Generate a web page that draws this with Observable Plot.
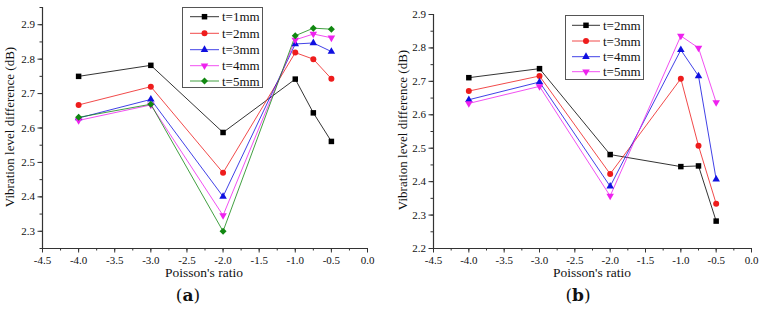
<!DOCTYPE html>
<html><head><meta charset="utf-8">
<script src="https://cdn.jsdelivr.net/npm/d3@7"></script>
<script src="https://cdn.jsdelivr.net/npm/@observablehq/plot@0.6"></script>
<style>
body{margin:0;background:#fff;}
#fig{position:relative;width:762px;height:310px;font-family:"Liberation Serif","Times New Roman",serif;color:#000;}
.panel{position:absolute;top:0;}
.lab{position:absolute;white-space:nowrap;font-family:"Liberation Serif","Times New Roman",serif;color:#111;}
.ytitle{font-size:13px;transform:translate(-50%,-50%) rotate(-90deg);}
.xtitle{font-size:13.5px;transform:translate(-50%,-50%);}
.cap{font-size:17px;font-family:"DejaVu Serif",serif;transform:translate(-50%,-50%);}
</style>
</head><body>
<div id="fig"></div>
<script>
// ---- data ----
const poisson = [-4, -3, -2, -1, -0.75, -0.5];
// panel (a)
const a_t1 = [2.750, 2.782, 2.587, 2.742, 2.644, 2.561];
const a_t2 = [2.667, 2.720, 2.470, 2.819, 2.800, 2.743];
const a_t3 = [2.629, 2.683, 2.401, 2.844, 2.847, 2.822];
const a_t4 = [2.622, 2.667, 2.346, 2.856, 2.873, 2.862];
const a_t5 = [2.631, 2.669, 2.300, 2.868, 2.890, 2.887];
const a_names = ["t=1mm", "t=2mm", "t=3mm", "t=4mm", "t=5mm"];
// panel (b)
const b_t2 = [2.711, 2.738, 2.481, 2.445, 2.447, 2.282];
const b_t3 = [2.671, 2.716, 2.423, 2.708, 2.507, 2.334];
const b_t4 = [2.645, 2.698, 2.386, 2.794, 2.716, 2.407];
const b_t5 = [2.634, 2.685, 2.357, 2.836, 2.800, 2.637];
const b_names = ["t=2mm", "t=3mm", "t=4mm", "t=5mm"];
// tick labels
const xTicks = [-4.5, -4.0, -3.5, -3.0, -2.5, -2.0, -1.5, -1.0, -0.5, 0.0];
const yTicksA = [2.3, 2.4, 2.5, 2.6, 2.7, 2.8, 2.9];
const yTicksB = [2.2, 2.3, 2.4, 2.5, 2.6, 2.7, 2.8, 2.9];

// styles per thickness
const styles = {
  "t=1mm": {color: "#000000", symbol: "square", rotate: 0, r: 3.1},
  "t=2mm": {color: "#ee1c1c", symbol: "circle", rotate: 0, r: 3.0},
  "t=3mm": {color: "#1010e0", symbol: "triangle", rotate: 0, r: 2.8},
  "t=4mm": {color: "#ee22ee", symbol: "triangle", rotate: 180, r: 2.8},
  "t=5mm": {color: "#118811", symbol: "diamond2", rotate: 0, r: 3.15}
};
const bStyles = {
  "t=2mm": styles["t=1mm"],
  "t=3mm": styles["t=2mm"],
  "t=4mm": styles["t=3mm"],
  "t=5mm": styles["t=4mm"]
};

const fmt = d => d.toFixed(1);
const fig = document.getElementById("fig");

function panel(seriesList, names, sty, yDomain, yTicks, geom) {
  const marks = [];
  seriesList.forEach((vals, i) => {
    const data = poisson.map((x, j) => ({x, y: vals[j]}));
    const s = sty[names[i]];
    marks.push(Plot.line(data, {x: "x", y: "y", stroke: s.color, strokeWidth: 0.8}));
  });
  seriesList.forEach((vals, i) => {
    const data = poisson.map((x, j) => ({x, y: vals[j]}));
    const s = sty[names[i]];
    marks.push(Plot.dot(data, {x: "x", y: "y", fill: s.color, stroke: "none", symbol: () => s.symbol, r: s.r, rotate: s.rotate}));
  });
  const minorX = d3.range(-4.5, 0.001, 0.25);
  const minorY = d3.range(yDomain[0], yDomain[1] + 0.0001, 0.05).map(v => +v.toFixed(3));
  marks.push(
    Plot.axisX({ticks: minorX, tickSize: 2.5, tickFormat: () => "", stroke: "#333"}),
    Plot.axisX({ticks: xTicks, tickSize: 4.5, tickPadding: 3, tickFormat: fmt, fontSize: 11, stroke: "#333", label: null}),
    Plot.axisY({ticks: minorY, tickSize: 2.5, tickFormat: () => "", stroke: "#333"}),
    Plot.axisY({ticks: yTicks, tickSize: 4.5, tickPadding: 3, tickFormat: fmt, fontSize: 11, stroke: "#333", label: null}),
    Plot.ruleY([yDomain[0]], {stroke: "#333", strokeWidth: 1.2}),
    Plot.ruleX([-4.5], {stroke: "#333", strokeWidth: 1.2})
  );
  const p = Plot.plot({
    width: geom.width, height: 310,
    marginLeft: geom.ml, marginRight: geom.mr, marginTop: geom.mt, marginBottom: geom.mb,
    style: {fontFamily: "Liberation Serif, Times New Roman, serif", fontSize: "11px", color: "#111", background: "transparent"},
    x: {domain: [-4.5, 0], label: null},
    y: {domain: yDomain, label: null},
    marks
  });
  p.classList.add("panel");
  p.style.left = geom.left + "px";
  fig.appendChild(p);
}

panel([a_t1, a_t2, a_t3, a_t4, a_t5], a_names, styles, [2.25, 2.95], yTicksA,
  {left: 0, width: 381, ml: 42, mr: 14, mt: 7, mb: 62});
panel([b_t2, b_t3, b_t4, b_t5], b_names, bStyles, [2.2, 2.9], yTicksB,
  {left: 381, width: 381, ml: 52, mr: 11, mt: 14, mb: 62});

function label(text, x, y, cls) {
  const d = document.createElement("div");
  d.className = "lab " + cls;
  d.style.left = x + "px"; d.style.top = y + "px";
  d.innerHTML = text;
  fig.appendChild(d);
}
label("Vibration level difference (dB)", 10, 127, "ytitle");
label("Vibration level difference (dB)", 403, 130, "ytitle");
label("Poisson's ratio", 204, 273, "xtitle");
label("Poisson's ratio", 592, 273, "xtitle");
label("(<b>a</b>)", 188, 295, "cap");
label("(<b>b</b>)", 578, 295, "cap");

function legend(names, sty, box, rowY, lineX0, lineX1, textX) {
  const svg = d3.select(fig).append("svg")
    .attr("width", 762).attr("height", 310)
    .style("position", "absolute").style("left", 0).style("top", 0)
    .style("pointer-events", "none");
  svg.append("rect").attr("x", box[0]).attr("y", box[1]).attr("width", box[2]).attr("height", box[3])
    .attr("fill", "#fff").attr("stroke", "#555").attr("stroke-width", 1);
  names.forEach((n, i) => {
    const s = sty[n];
    const y = rowY[i];
    const g = svg.append("g");
    g.append("line").attr("x1", lineX0).attr("x2", lineX1).attr("y1", y).attr("y2", y)
      .attr("stroke", s.color).attr("stroke-width", 0.8);
    const sym = {square: d3.symbolSquare, circle: d3.symbolCircle, triangle: d3.symbolTriangle, diamond2: d3.symbolDiamond2}[s.symbol];
    g.append("path").attr("d", d3.symbol(sym, Math.PI * s.r * s.r)())
      .attr("transform", `translate(${(lineX0 + lineX1) / 2},${y}) rotate(${s.rotate})`)
      .attr("fill", s.color);
    g.append("text").attr("x", textX).attr("y", y).attr("dy", "0.35em")
      .attr("font-family", "Liberation Serif, Times New Roman, serif").attr("font-size", 13).attr("fill", "#111").text(n);
  });
}
legend(a_names, styles, [182.5, 7.5, 80, 80], [16.7, 33.3, 49.7, 65.7, 81], 190, 219, 222);
legend(b_names, bStyles, [565.5, 15.5, 78, 64], [25.3, 41, 56.7, 71.7], 572, 600, 603);
</script>
</body></html>
